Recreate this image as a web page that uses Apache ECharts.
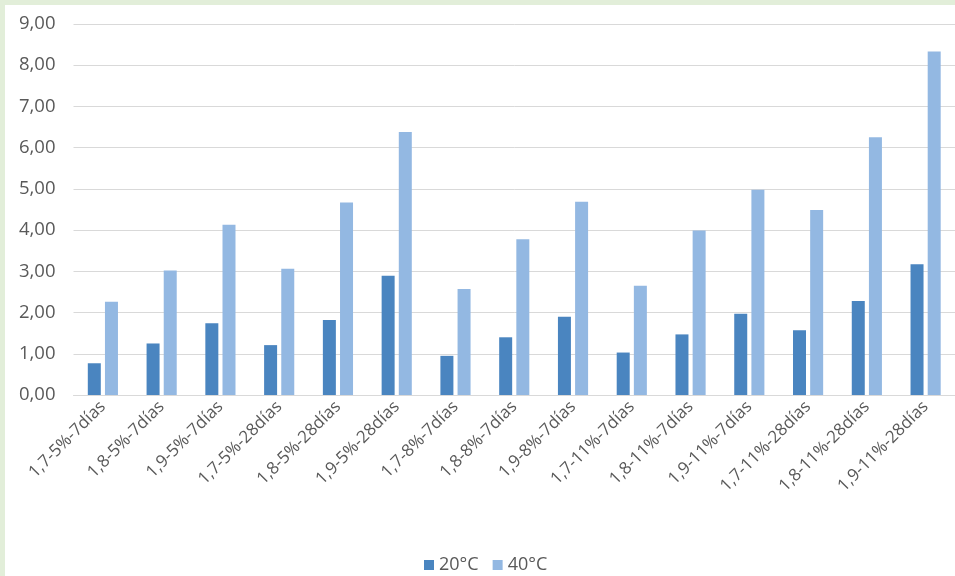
<!DOCTYPE html>
<html>
<head>
<meta charset="utf-8">
<script src="https://cdn.jsdelivr.net/npm/echarts@6/dist/echarts.min.js"></script>
<style>
  html, body { margin: 0; padding: 0; }
  body { width: 955px; height: 576px; background: #e2eed9; position: relative; overflow: hidden; }
  #chart { position: absolute; left: 5px; top: 5px; width: 950px; height: 571px; background: #ffffff; }
</style>
</head>
<body>
<div id="chart"></div>
<script>
// Mix designations: ratio - content - curing age
const categories = [
  '1,7-5%-7días', '1,8-5%-7días', '1,9-5%-7días',
  '1,7-5%-28días', '1,8-5%-28días', '1,9-5%-28días',
  '1,7-8%-7días', '1,8-8%-7días', '1,9-8%-7días',
  '1,7-11%-7días', '1,8-11%-7días', '1,9-11%-7días',
  '1,7-11%-28días', '1,8-11%-28días', '1,9-11%-28días'
];
const seriesNames = ['20°C', '40°C'];
const values20 = [0.77, 1.25, 1.74, 1.21, 1.82, 2.89, 0.95, 1.40, 1.90, 1.03, 1.47, 1.97, 1.57, 2.28, 3.17];
const values40 = [2.26, 3.02, 4.13, 3.06, 4.67, 6.38, 2.57, 3.78, 4.69, 2.65, 3.99, 4.98, 4.49, 6.25, 8.33];
const yTicks = { min: 0, max: 9, interval: 1 };

const textColor = '#595959';
const gridColor = '#d9d9d9';
const fontFamily = '"Open Sans", "Noto Sans", sans-serif';

const chart = echarts.init(document.getElementById('chart'), null, { renderer: 'canvas' });
chart.setOption({
  animation: false,
  backgroundColor: '#ffffff',
  textStyle: { fontFamily: fontFamily },
  grid: { left: 68.5, top: 19, width: 884, height: 371, containLabel: false },
  legend: {
    data: seriesNames,
    left: 414,
    top: 546,
    itemWidth: 10,
    itemHeight: 10,
    itemGap: 14,
    icon: 'rect',
    textStyle: { color: textColor, fontSize: 18, fontFamily: fontFamily, padding: [0, 0, 0, 0] }
  },
  xAxis: {
    type: 'category',
    data: categories,
    axisLine: { show: true, lineStyle: { color: gridColor, width: 1 } },
    axisTick: { show: false },
    axisLabel: {
      interval: 0,
      rotate: 45,
      margin: 9,
      color: textColor,
      fontSize: 17,
      fontFamily: fontFamily
    }
  },
  yAxis: {
    type: 'value',
    min: yTicks.min,
    max: yTicks.max,
    interval: yTicks.interval,
    axisLine: { show: false },
    axisTick: { show: false },
    splitLine: { show: true, lineStyle: { color: gridColor, width: 1 } },
    axisLabel: {
      margin: 18,
      color: textColor,
      fontSize: 18.5,
      fontFamily: fontFamily,
      formatter: v => v.toFixed(2).replace('.', ',')
    }
  },
  series: [
    {
      name: seriesNames[0],
      type: 'bar',
      data: values20,
      barWidth: 13,
      barGap: '32%',
      itemStyle: { color: '#4a85c0' }
    },
    {
      name: seriesNames[1],
      type: 'bar',
      data: values40,
      barWidth: 13,
      barGap: '32%',
      itemStyle: { color: '#93b8e2' }
    }
  ]
});
</script>
</body>
</html>
